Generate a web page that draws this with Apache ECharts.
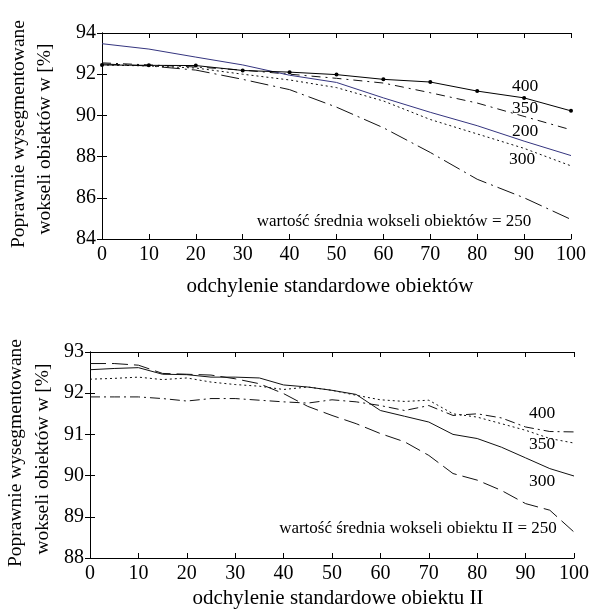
<!DOCTYPE html>
<html>
<head>
<meta charset="utf-8">
<script src="https://cdn.jsdelivr.net/npm/echarts@6/dist/echarts.min.js"></script>
<style>
html,body{margin:0;padding:0;background:#fff;}
#c{width:592px;height:610px;}
</style>
</head>
<body>
<div id="c"></div>
<script>
// ---- data: top chart ----
const xTop = [0, 10, 20, 30, 40, 50, 60, 70, 80, 90, 100];
const top200 = [93.48, 93.22, 92.83, 92.45, 91.95, 91.6, 90.85, 90.15, 89.5, 88.75, 88.05];
const top250 = [92.5, 92.4, 92.2, 91.75, 91.25, 90.4, 89.4, 88.2, 86.9, 86.0, 84.95];
const top300 = [92.45, 92.4, 92.3, 92.0, 91.72, 91.35, 90.7, 89.8, 89.1, 88.4, 87.55];
const top350 = [92.55, 92.45, 92.35, 92.2, 92.0, 91.8, 91.57, 91.1, 90.6, 89.95, 89.3];
const top400 = [92.45, 92.43, 92.42, 92.18, 92.1, 91.98, 91.75, 91.62, 91.18, 90.85, 90.22];
const topYTicks = [84, 86, 88, 90, 92, 94];

// ---- data: bottom chart ----
const xBot = [0, 5, 10, 15, 20, 25, 30, 35, 40, 45, 50, 55, 60, 65, 70, 75, 80, 85, 90, 95, 100];
const bot250 = [92.72, 92.72, 92.68, 92.48, 92.46, 92.44, 92.35, 92.23, 91.99, 91.68, 91.46, 91.26, 91.02, 90.82, 90.49, 90.05, 89.89, 89.64, 89.32, 89.16, 88.63];
const bot300 = [92.57, 92.6, 92.62, 92.46, 92.45, 92.39, 92.39, 92.37, 92.2, 92.15, 92.07, 91.97, 91.58, 91.44, 91.3, 91.0, 90.9, 90.69, 90.43, 90.17, 89.99];
const bot350 = [92.34, 92.36, 92.39, 92.33, 92.37, 92.27, 92.21, 92.17, 92.09, 92.15, 92.07, 91.95, 91.84, 91.8, 91.83, 91.5, 91.42, 91.26, 91.1, 90.9, 90.79];
const bot400 = [91.91, 91.91, 91.91, 91.87, 91.81, 91.87, 91.87, 91.83, 91.79, 91.76, 91.84, 91.79, 91.7, 91.58, 91.7, 91.46, 91.5, 91.4, 91.18, 91.07, 91.06];
const botYTicks = [88, 89, 90, 91, 92, 93];

const F = '"Liberation Serif", "Times New Roman", serif';
const pairs = (xs, ys) => xs.map((x, i) => [x, ys[i]]);

function xAxes(grid) {
  return [
    { type: 'value', gridIndex: grid, min: 0, max: 100, interval: 10, position: 'bottom',
      axisLine: { lineStyle: { color: '#000', width: 1 } },
      axisTick: { inside: true, length: 5, lineStyle: { color: '#000' } },
      axisLabel: { color: '#000', fontFamily: F, fontSize: 20, margin: 6 },
      splitLine: { show: false } },
    { type: 'value', gridIndex: grid, min: 0, max: 100, interval: 10, position: 'top',
      axisLine: { lineStyle: { color: '#000', width: 1 } },
      axisTick: { inside: true, length: 5, lineStyle: { color: '#000' } },
      axisLabel: { show: false }, splitLine: { show: false } }
  ];
}
function yAxes(grid, ticks) {
  const mn = ticks[0], mx = ticks[ticks.length - 1], iv = ticks[1] - ticks[0];
  return [
    { type: 'value', gridIndex: grid, min: mn, max: mx, interval: iv, position: 'left',
      axisLine: { show: true, lineStyle: { color: '#000', width: 1 } },
      axisTick: { show: true, inside: true, length: 5, lineStyle: { color: '#000' } },
      axisLabel: { color: '#000', fontFamily: F, fontSize: 20, margin: 6 },
      splitLine: { show: false } },
    { type: 'value', gridIndex: grid, min: mn, max: mx, interval: iv, position: 'right',
      axisLine: { show: true, lineStyle: { color: '#000', width: 1 } },
      axisTick: { show: true, inside: true, length: 5, lineStyle: { color: '#000' } },
      axisLabel: { show: false }, splitLine: { show: false } }
  ];
}
function line(xi, yi, xs, ys, color, type, width, symbol) {
  return {
    type: 'line', xAxisIndex: xi, yAxisIndex: yi, data: pairs(xs, ys),
    showSymbol: !!symbol, symbol: symbol || 'none', symbolSize: 4,
    itemStyle: { color: color }, silent: true, animation: false,
    lineStyle: { color: color, type: type, width: width || 1 }
  };
}

const chart = echarts.init(document.getElementById('c'), null, { renderer: 'canvas' });
const txt = (x, y, s, size, extra) => Object.assign({
  type: 'text', x: x, y: y,
  style: { text: s, fontFamily: F, fontSize: size, fill: '#000', align: 'center', verticalAlign: 'middle' }
}, extra || {});

chart.setOption({
  backgroundColor: '#fff',
  animation: false,
  grid: [
    { left: 102, right: 21, top: 33, height: 206 },
    { left: 90, right: 9, top: 352, height: 206 }
  ],
  xAxis: xAxes(0).concat(xAxes(1)),
  yAxis: yAxes(0, topYTicks).concat(yAxes(1, botYTicks)),
  series: [
    line(0, 0, xTop, top250, '#111', [18, 5, 2, 5], 1),
    line(0, 0, xTop, top300, '#111', [2, 3], 1),
    line(0, 0, xTop, top350, '#111', [9, 5, 2, 5], 1),
    line(0, 0, xTop, top200, '#35357f', 'solid', 1),
    line(0, 0, xTop, top400, '#000', 'solid', 1, 'circle'),
    line(2, 2, xBot, bot250, '#111', [16, 6], 1),
    line(2, 2, xBot, bot300, '#111', 'solid', 1),
    line(2, 2, xBot, bot350, '#111', [2, 3], 1),
    line(2, 2, xBot, bot400, '#111', [10, 4, 2, 4], 1)
  ],
  graphic: [
    txt(19, 134, 'Poprawnie wysegmentowane', 19.5, { rotation: Math.PI / 2 }),
    txt(45, 139, 'wokseli obiektów w [%]', 19.5, { rotation: Math.PI / 2 }),
    txt(330, 286, 'odchylenie standardowe obiektów', 21),
    txt(394, 222, 'wartość średnia wokseli obiektów = 250', 17),
    txt(525, 86, '400', 17.5),
    txt(525, 108, '350', 17.5),
    txt(525, 131, '200', 17.5),
    txt(522, 159, '300', 17.5),

    txt(16, 453, 'Poprawnie wysegmentowane', 19.5, { rotation: Math.PI / 2 }),
    txt(43, 459, 'wokseli obiektów w [%]', 19.5, { rotation: Math.PI / 2 }),
    txt(338, 598, 'odchylenie standardowe obiektu II', 21),
    txt(418, 529, 'wartość średnia wokseli obiektu II = 250', 17),
    txt(542, 413, '400', 17.5),
    txt(542, 444, '350', 17.5),
    txt(542, 481, '300', 17.5)
  ]
});
</script>
</body>
</html>
